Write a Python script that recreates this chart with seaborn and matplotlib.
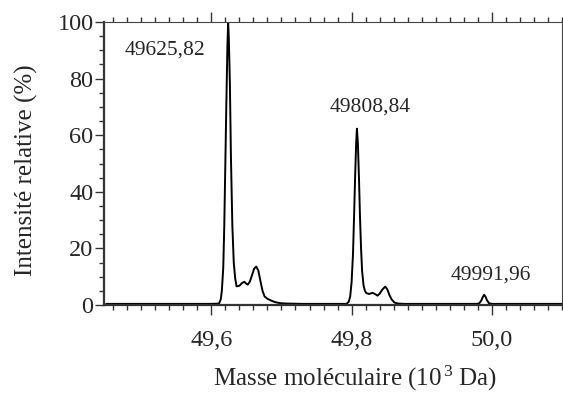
import numpy as np
import matplotlib
matplotlib.use("Agg")
import matplotlib.pyplot as plt
from matplotlib.ticker import MultipleLocator, FuncFormatter
import seaborn as sns
import pandas as pd

# ==========================================
# Data
# ==========================================
mass_kda = [
    49.450, 49.550, 49.600, 49.611, 49.6135, 49.615, 49.617, 49.6185, 49.620,
    49.6215, 49.623, 49.624, 49.625, 49.6265, 49.628, 49.630, 49.632, 49.634,
    49.636, 49.640, 49.644, 49.647, 49.650, 49.652, 49.655, 49.658, 49.661,
    49.664, 49.667, 49.670, 49.673, 49.676, 49.680, 49.685, 49.690, 49.695,
    49.700, 49.710, 49.730, 49.760, 49.793, 49.796, 49.798, 49.800, 49.802,
    49.8035, 49.805, 49.8065, 49.8076, 49.809, 49.8105, 49.812, 49.8135, 49.815,
    49.817, 49.819, 49.821, 49.825, 49.830, 49.834, 49.837, 49.840, 49.844,
    49.848, 49.851, 49.854, 49.857, 49.861, 49.866, 49.875, 49.920, 49.978,
    49.982, 49.985, 49.987, 49.989, 49.991, 49.993, 49.996, 50.000, 50.050,
    50.100,
]
intensity = [
    0.4, 0.4, 0.4, 0.5, 2.0, 5.0, 13.0, 28.0, 50.0,
    72.0, 92.0, 100.0, 94.0, 78.0, 52.0, 28.0, 15.0, 9.5,
    6.6, 6.8, 7.8, 8.2, 7.5, 7.2, 8.3, 10.5, 12.8,
    13.6, 12.2, 8.5, 5.0, 3.0, 2.2, 1.6, 1.1, 0.8,
    0.6, 0.5, 0.4, 0.4, 0.4, 1.2, 3.0, 8.0, 18.0,
    31.0, 45.0, 57.0, 62.3, 57.0, 45.0, 31.0, 20.0, 12.0,
    7.0, 5.0, 4.2, 3.9, 4.3, 3.8, 3.3, 4.0, 5.5,
    6.5, 5.5, 3.5, 2.0, 0.9, 0.5, 0.4, 0.4, 0.4,
    0.6, 1.6, 2.8, 3.6, 2.9, 1.7, 0.6, 0.4, 0.4,
    0.4,
]

peak_labels = ["49625,82", "49808,84", "49991,96"]
peak_label_x = [49.591, 49.826, 49.999]
peak_label_y = [90.0, 69.8, 10.6]
peak_label_ha = ["right", "center", "center"]

df = pd.DataFrame({"mass": mass_kda, "intensity": intensity})

# ==========================================
# Style
# ==========================================
sns.set_style("ticks")
plt.rcParams["font.family"] = ["Liberation Serif", "DejaVu Serif"]
plt.rcParams["mathtext.fontset"] = "custom"
plt.rcParams["mathtext.rm"] = "Liberation Serif"
plt.rcParams["mathtext.it"] = "Liberation Serif:italic"

fig = plt.figure(figsize=(5.63, 3.94), dpi=100)
ax = fig.add_axes([104 / 563, 1 - 305 / 394, (562 - 104) / 563, (305 - 22) / 394])

sns.lineplot(data=df, x="mass", y="intensity", ax=ax, color="black",
             linewidth=1.4, sort=True, estimator=None)

ax.set_xlim(49.447, 50.1)
ax.set_ylim(0, 100)

# ticks
ax.xaxis.set_major_locator(MultipleLocator(0.2))
ax.xaxis.set_minor_locator(MultipleLocator(0.02))
ax.yaxis.set_major_locator(MultipleLocator(20))
ax.yaxis.set_minor_locator(MultipleLocator(5))
ax.xaxis.set_major_formatter(FuncFormatter(lambda v, p: f"{v:.1f}".replace(".", ",")))
ax.yaxis.set_major_formatter(FuncFormatter(lambda v, p: f"{v:.0f}"))

ax.tick_params(axis="x", which="both", direction="out", top=True, bottom=True,
               labelsize=17.5, color="#333333", width=1.0, pad=11)
ax.tick_params(axis="x", which="major", length=7)
ax.tick_params(axis="x", which="minor", length=3.8)
ax.tick_params(axis="y", which="both", direction="out", left=True, right=False,
               labelsize=17.5, color="#333333", width=1.0, pad=1)
ax.tick_params(axis="y", which="major", length=6.5)
ax.tick_params(axis="y", which="minor", length=3.6)

for side in ["left", "bottom"]:
    ax.spines[side].set_linewidth(1.6)
    ax.spines[side].set_color("#333333")
for side in ["top", "right"]:
    ax.spines[side].set_visible(True)
    ax.spines[side].set_linewidth(0.8)
    ax.spines[side].set_color("#444444")

ax.set_xlabel("")
ax.set_ylabel("")
fig.text(26 / 563, 1 - 170 / 394, "Intensité relative (%)", rotation=90,
         ha="center", va="center", fontsize=18)
fig.text(355 / 563, 1 - 378 / 394, r"Masse moléculaire (10$^{\,3}$ Da)",
         ha="center", va="center", fontsize=18)

for txt, xx, yy, ha in zip(peak_labels, peak_label_x, peak_label_y, peak_label_ha):
    ax.text(xx, yy, txt, ha=ha, va="center", fontsize=15.5)

fig.savefig("out.png", dpi=100)
